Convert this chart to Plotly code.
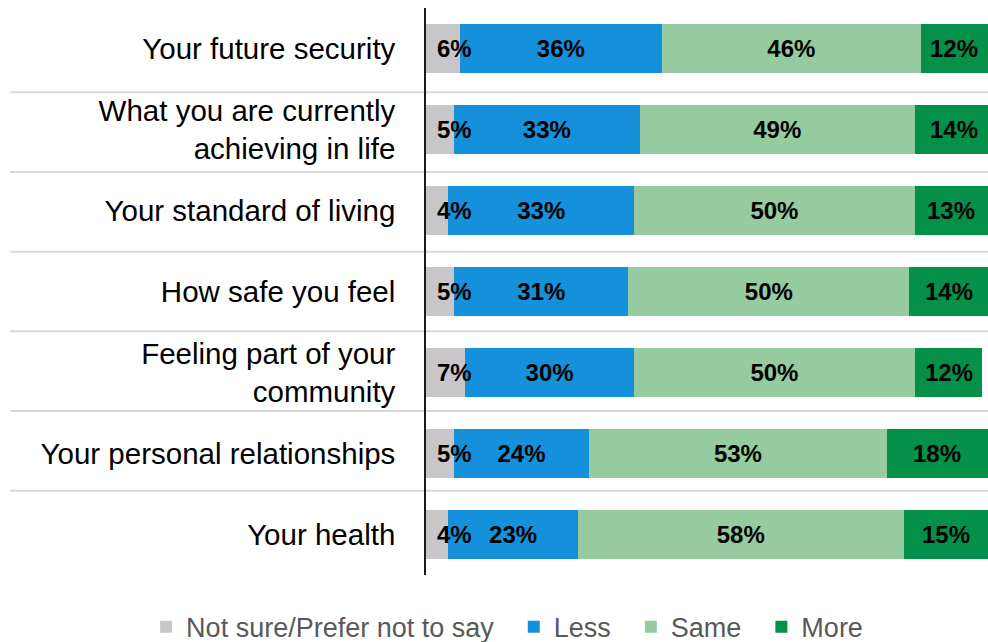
import plotly.graph_objects as go

# Survey items, top to bottom
categories = [
    "Your future security",
    "What you are currently<br>achieving in life",
    "Your standard of living",
    "How safe you feel",
    "Feeling part of your<br>community",
    "Your personal relationships",
    "Your health",
]

# Share of respondents (%) per response option
not_sure = [6, 5, 4, 5, 7, 5, 4]
less = [36, 33, 33, 31, 30, 24, 23]
same = [46, 49, 50, 50, 50, 53, 58]
more = [12, 14, 13, 14, 12, 18, 15]

series = [
    ("Not sure/Prefer not to say", not_sure, "#C8C6C9"),
    ("Less", less, "#1590DB"),
    ("Same", same, "#95CB9E"),
    ("More", more, "#05904A"),
]

FONT = "Arial, 'Liberation Sans', sans-serif"
LABEL_FONT = dict(family=FONT, size=24, color="black", weight="bold")
GAP = "\u00a0\u00a0"  # extra room after each legend entry

fig = go.Figure()
for idx, (name, values, color) in enumerate(series):
    inner = 0 < idx < len(series) - 1
    fig.add_trace(
        go.Bar(
            name=name + GAP,
            y=categories,
            x=values,
            orientation="h",
            marker=dict(color=color, line=dict(width=0)),
            # outer segments are labelled with annotations drawn on top
            texttemplate=("%{x}%" if inner else ""),
            textposition="inside",
            insidetextanchor="middle",
            textangle=0,
            constraintext="none",
            textfont=LABEL_FONT,
            hoverinfo="skip",
        )
    )

# First segment: labels start just right of the axis and may overflow the bar
for cat, v in zip(categories, not_sure):
    fig.add_annotation(
        x=0, y=cat, xref="x", yref="y",
        text=f"{v}%", showarrow=False,
        xanchor="left", yanchor="middle", xshift=9,
        font=LABEL_FONT,
    )

# Last segment: labels centred on the segment
for cat, a, b, c, d in zip(categories, not_sure, less, same, more):
    fig.add_annotation(
        x=a + b + c + d / 2, y=cat, xref="x", yref="y",
        text=f"{d}%", showarrow=False,
        xanchor="center", yanchor="middle",
        font=LABEL_FONT,
    )

# Light separators between the rows, running under the labels as well
for i in range(len(categories) - 1):
    yy = 0.54 + 0.984 * i
    fig.add_shape(
        type="line",
        xref="paper",
        yref="y",
        x0=-0.74,
        x1=1,
        y0=yy,
        y1=yy,
        line=dict(color="#D9D9D9", width=2),
        layer="below",
    )

fig.update_layout(
    width=988,
    height=642,
    barmode="stack",
    bargap=0.4,
    plot_bgcolor="white",
    paper_bgcolor="white",
    margin=dict(l=426, r=0, t=8, b=67, autoexpand=False),
    font=dict(family=FONT),
    legend=dict(
        orientation="h",
        xref="paper",
        yref="paper",
        x=-0.498,
        xanchor="left",
        y=-0.092,
        yanchor="middle",
        font=dict(family=FONT, size=27, color="#595959"),
        traceorder="normal",
        itemclick=False,
    ),
    showlegend=True,
)

fig.update_xaxes(
    range=[0, 100],
    showgrid=False,
    zeroline=False,
    showticklabels=False,
    showline=False,
    fixedrange=True,
)

fig.update_yaxes(
    categoryorder="array",
    categoryarray=categories,
    autorange="reversed",
    showgrid=False,
    zeroline=False,
    showline=True,
    linecolor="#1a1a1a",
    linewidth=1.5,
    ticks="",
    ticklabelstandoff=23,
    tickfont=dict(family=FONT, size=29.5, color="black"),
    fixedrange=True,
)

fig.write_html("out.html")
